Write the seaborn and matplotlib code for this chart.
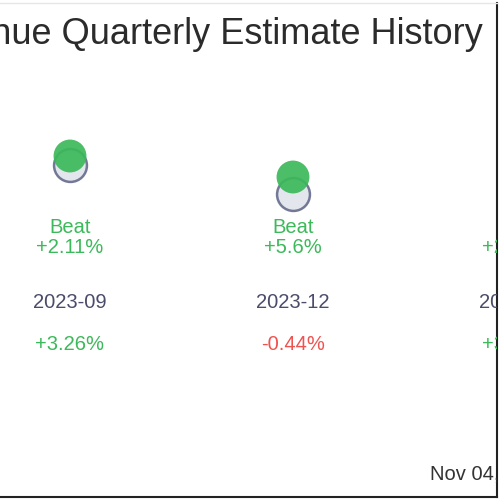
import matplotlib
matplotlib.use("Agg")
import matplotlib.pyplot as plt
import matplotlib.transforms as mtransforms
import pandas as pd
import seaborn as sns

# quarterly data (third quarter is cut off at the right edge of the view)
quarters = ["2023-09", "2023-12", "2024-03"]
estimate = [3.33, 3.04, 3.20]
actual = [3.42, 3.21, 3.28]
result = ["Beat", "Beat", "Beat"]
surprise = ["+2.11%", "+5.6%", "+2.45%"]
price_move = ["+3.26%", "-0.44%", "+3.11%"]
footer = "Nov 04, 2024"
title = "Revenue Quarterly Estimate History"

GREEN = "#3cb95a"
RED = "#ef5350"
DATE_C = "#4a4c6a"

sns.set_theme(style="white")
plt.rcParams["font.family"] = ["Liberation Sans", "DejaVu Sans"]

df = pd.DataFrame({"x": range(len(quarters)), "estimate": estimate, "actual": actual})

fig = plt.figure(figsize=(5, 5), dpi=100)
ax = fig.add_axes([0, 3 / 500, 497 / 500, 494 / 500])

sns.scatterplot(data=df, x="x", y="estimate", ax=ax, s=560, color="#e4e6ee",
                edgecolor="#737896", linewidth=1.8, zorder=2, legend=False)
sns.scatterplot(data=df, x="x", y="actual", ax=ax, s=560, color=GREEN,
                edgecolor="none", alpha=0.92, zorder=3, legend=False)

ax.set_xlim(-70 / 223, 427 / 223)
ax.set_ylim(0.01, 4.95)
ax.set_xticks([])
ax.set_yticks([])
ax.set_xlabel("")
ax.set_ylabel("")

fs = 14.5
trans = mtransforms.blended_transform_factory(ax.transData, ax.transAxes)
for i in range(len(quarters)):
    c = GREEN if result[i] == "Beat" else RED
    ax.text(i, 0.545, result[i], transform=trans, ha="center", va="center",
            fontsize=fs, color=c, clip_on=True)
    ax.text(i, 0.506, surprise[i], transform=trans, ha="center", va="center",
            fontsize=fs, color=c, clip_on=True)
    ax.text(i, 0.393, quarters[i], transform=trans, ha="center", va="center",
            fontsize=fs, color=DATE_C, clip_on=True)
    pc = RED if price_move[i].startswith("-") else GREEN
    ax.text(i, 0.308, price_move[i], transform=trans, ha="center", va="center",
            fontsize=fs, color=pc, clip_on=True)

ax.text(430 / 497, 0.047, footer, transform=ax.transAxes, ha="left", va="center",
        fontsize=fs, color="#333333", clip_on=True)

ax.spines["left"].set_visible(False)
ax.spines["top"].set_color("#e6e6e6")
ax.spines["top"].set_linewidth(1.0)
for side in ["right", "bottom"]:
    ax.spines[side].set_color("#222222")
    ax.spines[side].set_linewidth(1.5)

fig.text(483 / 500, 1 - 34 / 500, title, ha="right", va="center",
         fontsize=26, color="#2b2b2b")

fig.savefig("out.png", dpi=100)
